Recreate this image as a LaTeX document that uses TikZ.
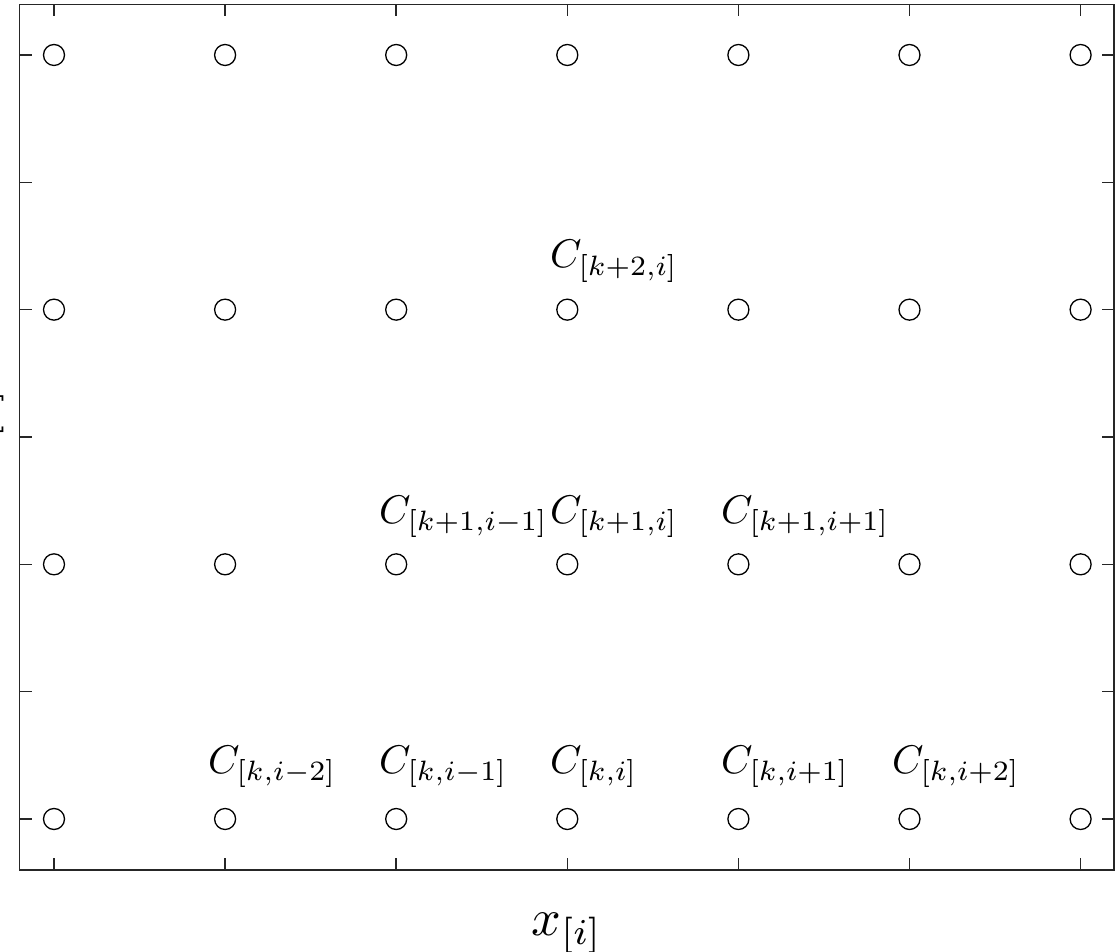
\documentclass[tikz,border=0pt]{standalone}
\usepackage{graphicx}
\usepackage{amsmath}
\newcommand{\clab}[1]{\scalebox{4}{$#1$}}
\newcommand{\alab}[1]{\scalebox{5.2}{$#1$}}
\begin{document}
\begin{tikzpicture}[x=1pt,y=-1pt,
  axisline/.style={draw={rgb,1:red,0.15;green,0.15;blue,0.15},line width=1.5pt},
  tickline/.style={draw={rgb,1:red,0.15;green,0.15;blue,0.15},line width=1.5pt},
  gridpt/.style={circle,draw=black,line width=1.3pt,minimum size=21pt,inner sep=0pt},
  clabel/.style={anchor=base west,inner sep=0pt},
  axlabel/.style={inner sep=0pt}]
\useasboundingbox (0,0) rectangle (1117,952);
% axes box
\coordinate (bl) at (19.5,870);
\coordinate (tr) at (1114,4.5);
\draw[axisline] (bl) rectangle (tr);
% ticks
\foreach \i in {0,...,6}{
  \pgfmathsetmacro{\xx}{54+171.1*\i}
  \draw[tickline] (\xx,870) -- ++(0,-12);
  \draw[tickline] (\xx,4.5) -- ++(0,12);
}
\foreach \j in {0,...,6}{
  \pgfmathsetmacro{\yy}{819-127.33*\j}
  \draw[tickline] (19.5,\yy) -- ++(12,0);
  \draw[tickline] (1114,\yy) -- ++(-12,0);
}
% grid points
\foreach \r in {0,...,3}{
  \foreach \i in {0,...,6}{
    \node[gridpt] (p\r\i) at ({54+171.1*\i},{819-254.67*\r}) {};
  }
}
% labels
\node[clabel] (c0m2) at (208,773) {\clab{C_{[k,i-2]}}};
\node[clabel] (c0m1) at (379,773) {\clab{C_{[k,i-1]}}};
\node[clabel] (c00)  at (550,773) {\clab{C_{[k,i]}}};
\node[clabel] (c0p1) at (721,773) {\clab{C_{[k,i+1]}}};
\node[clabel] (c0p2) at (892,773) {\clab{C_{[k,i+2]}}};
\node[clabel] (c1m1) at (379,523) {\clab{C_{[k+1,i-1]}}};
\node[clabel] (c10)  at (550,523) {\clab{C_{[k+1,i]}}};
\node[clabel] (c1p1) at (721,523) {\clab{C_{[k+1,i+1]}}};
\node[clabel] (c20)  at (550,268) {\clab{C_{[k+2,i]}}};
% axis labels
\node[axlabel,anchor=base] (xl) at (567,935) {\alab{x_{[i]}}};
\node[axlabel,anchor=base,rotate=90] (yl) at (-15,422) {\alab{t_{[k]}}};
\end{tikzpicture}
\end{document}
